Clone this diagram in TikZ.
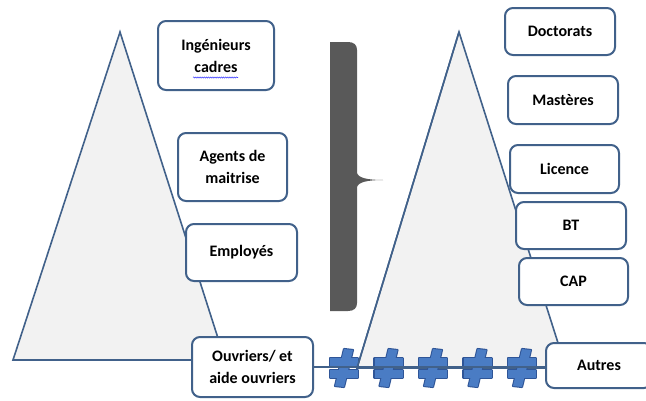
\documentclass[tikz,border=0pt]{standalone}
\usepackage{fontspec}
\setmainfont{Carlito}
\usetikzlibrary{decorations.pathmorphing}
\definecolor{bordc}{HTML}{41618A}
\definecolor{trifill}{HTML}{F2F2F2}
\definecolor{brack}{HTML}{595959}
\definecolor{neqfill}{HTML}{4A7CC4}
\definecolor{neqline}{HTML}{2F5597}
\begin{document}
\begin{tikzpicture}[x=0.75pt,y=-0.75pt,
  box/.style={draw=bordc, line width=1.5pt, rounded corners=6pt, fill=white,
    align=center, inner sep=0pt, font=\bfseries\fontsize{12pt}{16.5pt}\selectfont},
  tri/.style={draw=bordc, line width=1.2pt, fill=trifill, line join=miter},
  neqout/.style={draw=neqline, line width=1.6pt, line join=round},
  neqin/.style={fill=neqfill}]
\useasboundingbox (0,0) rectangle (646,400);
\clip (0,0) rectangle (646,400);
\fill[white] (0,0) rectangle (646,400);
% triangles
\draw[tri] (120,32) -- (13,360) -- (225,360) -- cycle;
\draw[tri] (459,32) -- (357,368) -- (566,368) -- cycle;
% bracket
\fill[brack] (330,42) -- (348,42) .. controls (354,42) and (357,45) .. (357,50)
  -- (357,172) .. controls (357,178) and (368,180) .. (383,180)
  .. controls (368,180) and (357,182) .. (357,188)
  -- (357,303) .. controls (357,308) and (354,311) .. (348,311)
  -- (330,311) -- cycle;
% boxes
\node[box, minimum width=87pt, minimum height=51.75pt] (ing) at (216,55.5) {Ingénieurs\\cadres};
\node[box, minimum width=81.75pt, minimum height=51pt] (agents) at (232.5,167) {Agents de\\maitrise};
\node[box, minimum width=83.25pt, minimum height=42.75pt] (emp) at (241.5,252.5) {Employés};
\node[box, minimum width=90.75pt, minimum height=45pt] (ouv) at (252.5,367) {Ouvriers/ et\\aide ouvriers};
\node[box, minimum width=82.5pt, minimum height=35.25pt] (doc) at (560,31.5) {Doctorats};
\node[box, minimum width=82.5pt, minimum height=36pt] (mas) at (563,100) {Mastères};
\node[box, minimum width=81.75pt, minimum height=36pt] (lic) at (564.5,169) {Licence};
\node[box, minimum width=82.5pt, minimum height=35.25pt] (bt) at (571,225.5) {BT};
\node[box, minimum width=81.75pt, minimum height=35.25pt] (cap) at (573.5,281.5) {CAP};
\node[box, minimum width=79.5pt, minimum height=33.75pt] (aut) at (599,365.5) {Autres};
% spell-check squiggle
\draw[color=blue!75, line width=0.4pt, decorate,
  decoration={snake, amplitude=0.45pt, segment length=1.6pt}] (193,77.5) -- (238,77.5);
% not-equal signs
\foreach \cx in {344,388.5,433,477.5,522}{
  \draw[neqout] (\cx-14,358) rectangle (\cx+14,366);
  \draw[neqout] (\cx-14,370) rectangle (\cx+14,378);
  \draw[neqout] (\cx,349) -- (\cx+9,350) -- (\cx,387) -- (\cx-9,386) -- cycle;
}
\foreach \cx in {344,388.5,433,477.5,522}{
  \fill[neqin] (\cx-14,358) rectangle (\cx+14,366);
  \fill[neqin] (\cx-14,370) rectangle (\cx+14,378);
  \fill[neqin] (\cx,349) -- (\cx+9,350) -- (\cx,387) -- (\cx-9,386) -- cycle;
}
% connector
\draw[draw=bordc, line width=1.2pt] (ouv.east) -- (ouv.east -| aut.west);
\draw[draw=bordc, line width=1.2pt] (459,32) -- (357,368);
\end{tikzpicture}
\end{document}
